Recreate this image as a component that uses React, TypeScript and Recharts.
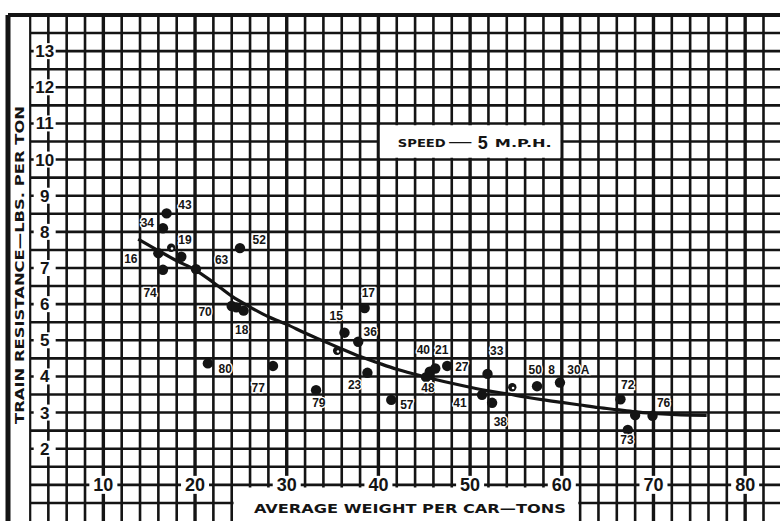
import { ComposedChart, XAxis, YAxis, ReferenceLine, ReferenceArea, Scatter, Line } from "recharts";

// average weight per car (tons) / train resistance (lbs per ton) for each plotted test
const pointWeights = [16.9, 16.5, 18.5, 16.0, 16.5, 20.1, 24.9, 24.0, 24.5, 25.3, 21.4, 28.5, 33.2, 36.3, 38.5, 37.8, 38.8, 41.4, 45.2, 45.6, 46.2, 47.5, 51.9, 51.3, 52.4, 57.3, 59.8, 66.4, 68.0, 69.9, 67.2];
const pointResist = [8.51, 8.10, 7.31, 7.41, 6.95, 6.97, 7.55, 5.95, 5.91, 5.82, 4.36, 4.29, 3.62, 5.21, 5.89, 4.96, 4.10, 3.35, 3.98, 4.13, 4.22, 4.29, 4.07, 3.49, 3.27, 3.73, 3.83, 3.37, 2.93, 2.91, 2.52];

// the small open marks
const minorWeights = [17.4, 35.5, 54.6];
const minorResist = [7.56, 4.71, 3.70];

// test numbers written next to the points
const labelTexts = ["43", "34", "19", "16", "74", "63", "52", "70", "18", "80", "77", "79", "15", "17", "36", "23", "57", "40", "21", "27", "48", "33", "41", "38", "50", "8", "30A", "72", "76", "73"];
const labelWeights = [18.9, 14.8, 18.9, 13.0, 15.1, 22.9, 27.0, 21.1, 25.1, 23.3, 26.9, 33.5, 35.4, 38.9, 39.1, 37.4, 43.1, 44.9, 46.9, 49.1, 45.4, 52.9, 48.9, 53.3, 57.1, 58.9, 61.8, 67.2, 71.1, 67.1];
const labelResist = [8.74, 8.25, 7.78, 7.25, 6.31, 7.22, 7.78, 5.78, 5.28, 4.20, 3.68, 3.26, 5.67, 6.30, 5.24, 3.76, 3.21, 4.73, 4.73, 4.25, 3.67, 4.71, 3.26, 2.75, 4.18, 4.18, 4.18, 3.76, 3.27, 2.24];

// fitted curve
const curveWeights = [13.8, 16, 18, 20, 22, 24, 26, 28, 30, 32, 34, 36, 38, 40, 42, 44, 46, 48, 50, 52, 54, 56, 58, 60, 62, 64, 66, 68, 70, 72, 74, 75.8];
const curveResist = [7.8, 7.48, 7.2, 6.95, 6.6, 6.22, 5.92, 5.65, 5.44, 5.2, 4.98, 4.76, 4.55, 4.37, 4.2, 4.06, 3.93, 3.81, 3.7, 3.6, 3.52, 3.43, 3.35, 3.28, 3.21, 3.14, 3.08, 3.02, 2.98, 2.95, 2.93, 2.92];

// scale figures are printed inside the sheet: x figures on the 1-lb line, y figures on the 3.6-ton column
const xTickLabels = [10, 20, 30, 40, 50, 60, 70, 80];
const yTickLabels = [2, 3, 4, 5, 6, 7, 8, 9, 10, 11, 12, 13];
const xTickRow = 1;
const yTickCol = 3.6;

const gridX = Array.from({ length: 41 }, (_, i) => 2 + i * 2);
const gridY = Array.from({ length: 27 }, (_, i) => 0.5 + i * 0.5);

const INK = "#141414";
const BOLD = "'Liberation Sans', Arial, sans-serif";
const WIDE = "'DejaVu Sans', Verdana, sans-serif";

const points = pointWeights.map((x, i) => ({ x, y: pointResist[i] }));
const minor = minorWeights.map((x, i) => ({ x, y: minorResist[i] }));
const labels = labelTexts.map((text, i) => ({ x: labelWeights[i], y: labelResist[i], text }));
const curve = curveWeights.map((x, i) => ({ x, y: curveResist[i] }));
const xTicks = xTickLabels.map((v) => ({ x: v, y: xTickRow, text: String(v) }));
const yTicks = yTickLabels.map((v) => ({ x: yTickCol, y: v, text: String(v) }));

function XTick(p: any) {
  return (
    <g>
      <rect x={p.cx - 14} y={p.cy - 9} width={28} height={18} fill="#fff" />
      <text x={p.cx} y={p.cy + 6.5} textAnchor="middle" fontSize={18} fontWeight="bold" fontFamily={BOLD} fill={INK}>
        {p.payload.text}
      </text>
    </g>
  );
}

function YTick(p: any) {
  return (
    <g>
      <rect x={p.cx - 11} y={p.cy - 8} width={22} height={16} fill="#fff" />
      <text x={p.cx} y={p.cy + 6} textAnchor="middle" fontSize={17} fontWeight="bold" fontFamily={BOLD} fill={INK}>
        {p.payload.text}
      </text>
    </g>
  );
}

function speedLabel({ viewBox }: any) {
  const { x, y } = viewBox;
  return (
    <g fill={INK} fontWeight="bold" fontFamily={WIDE}>
      <text x={x + 18} y={y + 22} fontSize={10} textLength={48} lengthAdjust="spacingAndGlyphs">SPEED</text>
      <text x={x + 68} y={y + 21} fontSize={10.5} textLength={25} lengthAdjust="spacingAndGlyphs">—</text>
      <text x={x + 98} y={y + 24} fontSize={18} fontFamily={BOLD}>5</text>
      <text x={x + 115} y={y + 22} fontSize={10.5} textLength={57} lengthAdjust="spacingAndGlyphs">M.P.H.</text>
    </g>
  );
}

function xTitle({ viewBox }: any) {
  const { x, y, width } = viewBox;
  return (
    <text x={x + width / 2 + 4} y={y + 26} textAnchor="middle" fontSize={11.5} fontWeight="bold"
      fontFamily={WIDE} fill={INK} textLength={312} lengthAdjust="spacingAndGlyphs">
      AVERAGE WEIGHT PER CAR—TONS
    </text>
  );
}

function yTitle({ viewBox }: any) {
  const { x, y, width, height } = viewBox;
  const cx = x + width / 2 + 1.5;
  const cy = y + height / 2 - 3;
  return (
    <text x={cx} y={cy} transform={`rotate(-90 ${cx} ${cy})`} textAnchor="middle" dominantBaseline="central"
      fontSize={12} fontWeight="bold" fontFamily={WIDE} fill={INK} textLength={318} lengthAdjust="spacingAndGlyphs">
      TRAIN RESISTANCE—LBS. PER TON
    </text>
  );
}

export default function App() {
  return (
    <div style={{ position: "absolute", left: 0, top: 0, width: 780, height: 521, background: "#fff" }}>
      <ComposedChart width={780} height={521} margin={{ top: 15, right: 0, bottom: 0, left: 8 }}>
        <XAxis type="number" dataKey="x" domain={[-0.4, 83.8]} allowDataOverflow hide />
        <YAxis type="number" dataKey="y" domain={[0, 14]} allowDataOverflow hide />
        {gridX.map((v) => (
          <ReferenceLine key={"gx" + v} x={v} stroke={INK} strokeWidth={v % 10 === 0 ? 3.4 : 2.6} zIndex={-100} />
        ))}
        {gridY.map((v) => (
          <ReferenceLine key={"gy" + v} y={v} stroke={INK} strokeWidth={2.6} zIndex={-100} />
        ))}
        <ReferenceArea x1={-0.4} x2={1.9} y1={0} y2={14} fill="#fff" fillOpacity={1} stroke="none" zIndex={-50} label={yTitle} />
        <ReferenceArea x1={24.2} x2={61.8} y1={0} y2={0.93} fill="#fff" fillOpacity={1} stroke="none" zIndex={-50} label={xTitle} />
        <ReferenceArea x1={40.15} x2={59.85} y1={10.05} y2={10.95} fill="#fff" fillOpacity={1} stroke="none" zIndex={-50} label={speedLabel} />
        <ReferenceLine x={-0.4} stroke={INK} strokeWidth={5} zIndex={-40} />
        <ReferenceLine y={14} stroke={INK} strokeWidth={4} zIndex={-40} />
        <Line data={curve} dataKey="y" type="monotone" stroke={INK} strokeWidth={3.2} dot={false} isAnimationActive={false} />
        <Scatter data={xTicks} isAnimationActive={false} shape={XTick} />
        <Scatter data={yTicks} isAnimationActive={false} shape={YTick} />
        <Scatter data={points} isAnimationActive={false}
          shape={(p: any) => <circle cx={p.cx} cy={p.cy} r={5.2} fill={INK} />} />
        <Scatter data={minor} isAnimationActive={false}
          shape={(p: any) => (
            <g>
              <circle cx={p.cx} cy={p.cy} r={4.2} fill={INK} />
              <circle cx={p.cx + 0.8} cy={p.cy + 0.8} r={1.3} fill="#fff" />
            </g>
          )} />
        <Scatter data={labels} isAnimationActive={false}
          shape={(p: any) => (
            <text x={p.cx} y={p.cy + 4} textAnchor="middle" fontSize={12} fontWeight="bold" fontFamily={BOLD}
              fill={INK} stroke="#fff" strokeWidth={2.5} paintOrder="stroke">
              {p.payload.text}
            </text>
          )} />
      </ComposedChart>
    </div>
  );
}
